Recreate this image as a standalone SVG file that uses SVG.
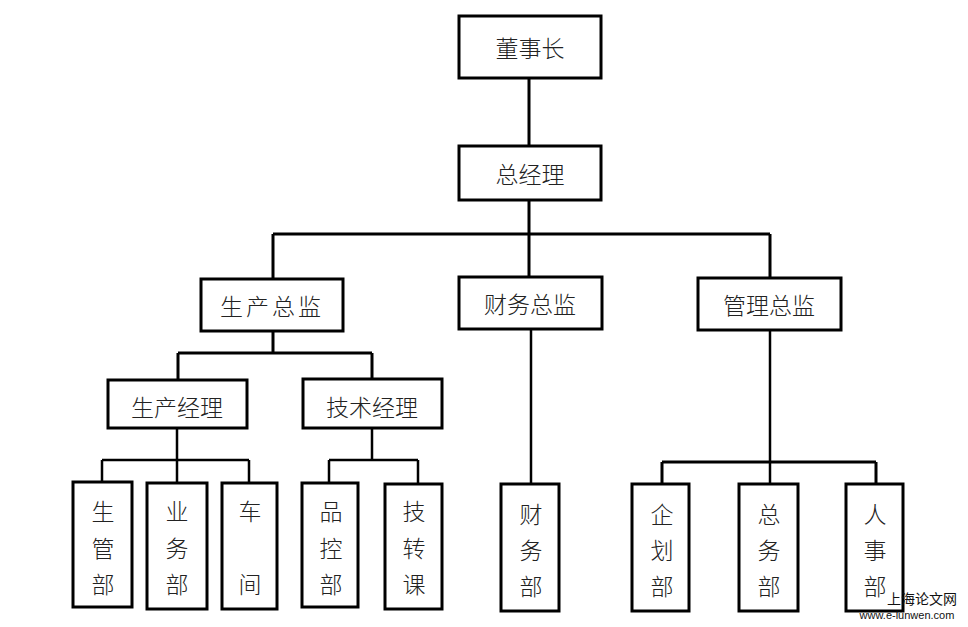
<svg xmlns="http://www.w3.org/2000/svg" width="968" height="627" viewBox="0 0 968 627">
<style>
.b{fill:#fff;stroke:#000;stroke-width:3}
.t{font-family:"Noto Sans CJK SC","Noto Sans CJK JP",sans-serif;font-size:23px;font-weight:300;fill:#222;text-anchor:middle;dominant-baseline:central}
.v{font-family:"Noto Sans CJK SC","Noto Sans CJK JP",sans-serif;font-size:23px;font-weight:300;fill:#222;text-anchor:middle;dominant-baseline:central}
.c{fill:none;stroke:#000;stroke-width:3}
.c2{fill:none;stroke:#000;stroke-width:2.5}
</style>
<rect width="968" height="627" fill="#fff"/>
<g id="connectors">
<path class="c" d="M529,78V146M529,200V234M273,234H770M273,234V279M529,234V277M770,234V278"/>
<path class="c" d="M273,331V353M178,353H372M178,353V380M372,353V379"/>
<path class="c2" d="M177,428V483M102,460H249M102,460V482M249,460V483"/>
<path class="c2" d="M372,428V461M329,460H418M329,460V483M418,460V484"/>
<path class="c2" d="M531,329V484"/>
<path class="c2" d="M770,330V484"/>
<path class="c" d="M662,462H876M662,462V484M876,462V484"/>
</g>
<g id="n1"><rect class="b" x="459" y="16" width="142" height="62"/><text class="t" x="530" y="47">董事长</text></g>
<g id="n2"><rect class="b" x="459" y="146" width="142" height="54"/><text class="t" x="530" y="173">总经理</text></g>
<g id="n3"><rect class="b" x="201" y="279" width="142" height="52"/><text class="t" x="272" y="305" letter-spacing="3">生产总监</text></g>
<g id="n4"><rect class="b" x="459" y="277" width="143" height="52"/><text class="t" x="530" y="303">财务总监</text></g>
<g id="n5"><rect class="b" x="698" y="278" width="143" height="52"/><text class="t" x="769" y="304">管理总监</text></g>
<g id="n6"><rect class="b" x="108" y="380" width="139" height="48"/><text class="t" x="177" y="406">生产经理</text></g>
<g id="n7"><rect class="b" x="303" y="379" width="139" height="49"/><text class="t" x="372" y="406">技术经理</text></g>
<g id="n8"><rect class="b" x="73" y="482" width="59" height="125"/><text class="v" x="103" y="510">生</text><text class="v" x="103" y="547">管</text><text class="v" x="103" y="583">部</text></g>
<g id="n9"><rect class="b" x="147" y="483" width="60" height="126"/><text class="v" x="177" y="510">业</text><text class="v" x="177" y="547">务</text><text class="v" x="177" y="583">部</text></g>
<g id="n10"><rect class="b" x="222" y="483" width="55" height="126"/><text class="v" x="250" y="510">车</text><text class="v" x="250" y="583">间</text></g>
<g id="n11"><rect class="b" x="302" y="483" width="56" height="124"/><text class="v" x="331" y="510">品</text><text class="v" x="331" y="547">控</text><text class="v" x="331" y="583">部</text></g>
<g id="n12"><rect class="b" x="385" y="484" width="57" height="125"/><text class="v" x="414" y="510">技</text><text class="v" x="414" y="547">转</text><text class="v" x="414" y="583">课</text></g>
<g id="n13"><rect class="b" x="501" y="484" width="58" height="127"/><text class="v" x="531" y="513">财</text><text class="v" x="531" y="549">务</text><text class="v" x="531" y="585">部</text></g>
<g id="n14"><rect class="b" x="632" y="484" width="57" height="127"/><text class="v" x="662" y="513">企</text><text class="v" x="662" y="549">划</text><text class="v" x="662" y="585">部</text></g>
<g id="n15"><rect class="b" x="739" y="484" width="59" height="127"/><text class="v" x="769" y="513">总</text><text class="v" x="769" y="549">务</text><text class="v" x="769" y="585">部</text></g>
<g id="n16"><rect class="b" x="846" y="484" width="57" height="127"/><text class="v" x="875" y="513">人</text><text class="v" x="875" y="549">事</text><text class="v" x="875" y="585">部</text></g>
<g id="watermark">
<text x="922" y="598" font-family="Noto Sans CJK SC,sans-serif" font-size="14" text-anchor="middle" dominant-baseline="central" fill="#111">上海论文网</text>
<text x="907" y="615" font-family="Liberation Sans,sans-serif" font-size="11" text-anchor="middle" dominant-baseline="central" fill="#111">www.e-lunwen.com</text>
</g>
</svg>
